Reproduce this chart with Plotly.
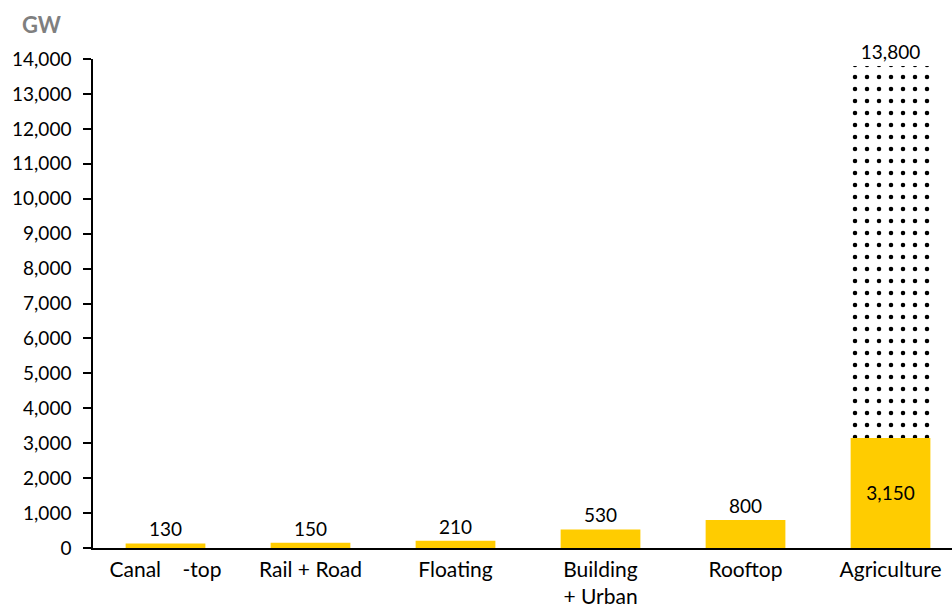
import plotly.graph_objects as go

categories = ["Canal\u00a0\u00a0\u00a0\u00a0-top", "Rail + Road", "Floating", "Building<br>+ Urban", "Rooftop", "Agriculture"]
current_gw = [130, 150, 210, 530, 800, 3150]
potential_category = ["Agriculture"]
potential_total_gw = [13800]
y_ticks = list(range(0, 14001, 1000))

YELLOW = "#FFCC00"
FONT = "Lato"

base_val = [current_gw[categories.index(c)] for c in potential_category]
extra = [t - b for t, b in zip(potential_total_gw, base_val)]

fig = go.Figure()
fig.add_trace(go.Bar(
    x=categories, y=current_gw,
    marker=dict(color=YELLOW, line=dict(width=0)),
    text=[f"{v:,}" for v in current_gw],
    textposition=["outside"] * 5 + ["inside"],
    insidetextanchor="middle",
    textfont=dict(family=FONT, size=19, color="black"),
    cliponaxis=False, width=0.55,
))
fig.add_trace(go.Bar(
    x=potential_category, y=extra, base=base_val,
    marker=dict(color="white", line=dict(width=0),
                pattern=dict(shape=".", fgcolor="black", bgcolor="white", fgopacity=1,
                             size=12, solidity=0.11, fillmode="replace")),
    text=[f"{v:,}" for v in potential_total_gw],
    textposition="outside",
    textfont=dict(family=FONT, size=19, color="black"),
    cliponaxis=False, width=0.55,
))

fig.update_layout(
    width=952, height=609,
    margin=dict(l=93, r=0, t=59, b=61),
    barmode="overlay",
    showlegend=False,
    plot_bgcolor="white", paper_bgcolor="white",
    font=dict(family=FONT, size=19, color="black"),
    xaxis=dict(range=[-0.5, 5.424], showline=True, linecolor="black", linewidth=1.5,
               ticks="", showgrid=False, tickfont=dict(size=21), ticklabelstandoff=2),
    yaxis=dict(range=[0, 14000], tickvals=y_ticks, tickformat=",", showline=True,
               linecolor="black", linewidth=1.5, ticks="outside", ticklen=8,
               tickwidth=1.5, tickcolor="black", showgrid=False, zeroline=False,
               tickfont=dict(size=19), ticklabelstandoff=8),
    annotations=[dict(text="<b>GW</b>", xref="paper", yref="paper",
                      x=-0.0605, y=1.0715, xanchor="center", yanchor="middle",
                      showarrow=False, font=dict(family=FONT, size=22, color="#7F7F7F"))],
)

fig.write_html("out.html")
